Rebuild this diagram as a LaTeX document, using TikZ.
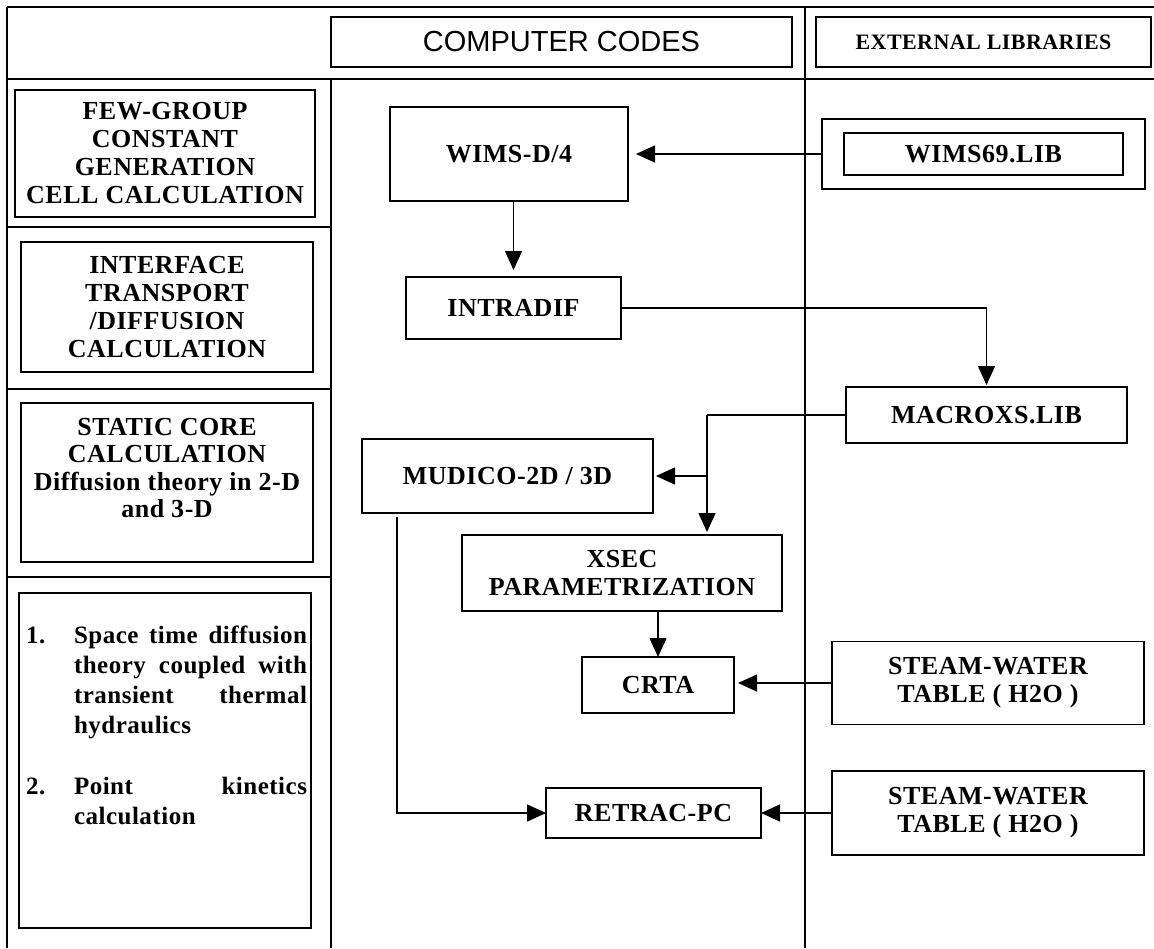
\documentclass[tikz,border=0pt]{standalone}
\usepackage{fontspec}
\setmainfont{Liberation Serif}
\setsansfont{Liberation Sans}
\newfontfamily\boxfont{Liberation Serif}[LetterSpace=2]
\usetikzlibrary{arrows.meta}
\tikzset{
  every node/.style={inner sep=0pt, outer sep=0pt},
  frameline/.style={line width=1.4pt},
  heavyline/.style={line width=2.2pt},
  bx/.style={draw, line width=1.5pt, align=center, font=\boxfont\bfseries\fontsize{26}{28}\selectfont},
  hdr/.style={draw, line width=1.8pt, align=center},
  txt/.style={align=center, font=\boxfont\bfseries\fontsize{26}{27.5}\selectfont},
  conn/.style={line width=1.4pt},
  arr/.style={line width=1.4pt, -{Triangle[length=19pt,width=17pt]}}
}
\begin{document}
\begin{tikzpicture}[x=1pt,y=-1pt]
\useasboundingbox (0,0) rectangle (1154,948);
% ---- frame ----
\draw[heavyline] (7,7) -- (1154,7);
\draw[frameline] (7,7) -- (7,948);
\draw[heavyline] (7,79) -- (1154,79);
\draw[frameline] (331,79) -- (331,948);
\draw[heavyline] (805,7) -- (805,79);
\draw[frameline] (805,79) -- (805,948);
\draw[frameline] (7,227) -- (331,227);
\draw[frameline] (7,389) -- (331,389);
\draw[frameline] (7,577) -- (331,577);
% ---- headers ----
\node[hdr, minimum width=461pt, minimum height=50pt, font=\sffamily\fontsize{29}{32}\selectfont] (hcodes) at (561.5,42) {COMPUTER CODES};
\node[hdr, minimum width=335pt, minimum height=50pt, font=\boxfont\bfseries\fontsize{22}{24}\selectfont] (hlibs) at (983.5,42) {EXTERNAL LIBRARIES};
% ---- left column ----
\node[bx, minimum width=300pt, minimum height=127pt] (b1) at (165,153.5) {FEW-GROUP\\CONSTANT\\GENERATION\\CELL CALCULATION};
\node[bx, minimum width=292pt, minimum height=130pt] (b2) at (167,307) {INTERFACE\\TRANSPORT\\/DIFFUSION\\CALCULATION};
\node[bx, minimum width=292pt, minimum height=159pt] (b3) at (167,482.5) {};
\node[txt, anchor=north] (t3) at (167,418) {STATIC CORE\\CALCULATION\\Diffusion theory in 2-D\\and 3-D};
\node[bx, minimum width=292pt, minimum height=335pt] (b4) at (165,760.5) {};
\node[anchor=base west, font=\boxfont\bfseries\fontsize{25}{30}\selectfont] (t4) at (26,643)
  {\parbox[t]{281pt}{\hangindent=48pt\hangafter=1 \makebox[48pt][l]{1.}Space time diffusion\linebreak theory coupled with\linebreak transient thermal\linebreak hydraulics\par\vspace{31pt}\hangindent=48pt\hangafter=1 \makebox[48pt][l]{2.}Point kinetics\linebreak calculation}};
% ---- computer codes ----
\node[bx, minimum width=238pt, minimum height=94pt] (wims) at (509,154) {WIMS-D/4};
\node[bx, minimum width=215pt, minimum height=62pt] (intradif) at (513.5,308) {INTRADIF};
\node[bx, minimum width=291pt, minimum height=74pt] (mudico) at (507.5,476) {MUDICO-2D / 3D};
\node[bx, minimum width=320pt, minimum height=76pt] (xsec) at (622,573) {XSEC\\PARAMETRIZATION};
\node[bx, minimum width=152pt, minimum height=56pt] (crta) at (658,685) {CRTA};
\node[bx, minimum width=215pt, minimum height=50pt] (retrac) at (653.5,813) {RETRAC-PC};
% ---- external libraries ----
\node[draw, line width=1.5pt, minimum width=323pt, minimum height=70pt] (wimslibout) at (983.5,154) {};
\node[bx, minimum width=279pt, minimum height=42pt] (wimslib) at (983.5,154) {WIMS69.LIB};
\node[bx, minimum width=281pt, minimum height=56pt] (macroxs) at (986.5,415) {MACROXS.LIB};
\node[bx, minimum width=312pt, minimum height=83pt] (steam1) at (988,683) {STEAM-WATER\\TABLE ( H2O )};
\node[bx, minimum width=312pt, minimum height=84pt] (steam2) at (988,813) {STEAM-WATER\\TABLE ( H2O )};
% ---- connectors ----
\draw[arr, shorten >=8pt] (wimslibout.west) -- (wimslibout.west -| wims.east);
\draw[arr, shorten >=7pt] (intradif.north |- wims.south) -- (intradif.north);
\draw[arr, shorten >=2pt] (intradif.east) -| (macroxs.north);
\coordinate (j) at (707,415);
\draw[conn] (macroxs.west) -- (j);
\draw[arr, shorten >=3pt] (j) -- (j |- xsec.north);
\draw[arr, shorten >=3pt] (j |- mudico.east) -- (mudico.east);
\draw[arr] (crta.north |- xsec.south) -- (crta.north);
\draw[arr, shorten >=4pt] (steam1.west) -- (steam1.west -| crta.east);
\draw[arr, shorten <=4pt] ([xshift=35pt]mudico.south west) |- (retrac.west);
\draw[arr] (steam2.west) -- (steam2.west -| retrac.east);
\end{tikzpicture}
\end{document}
